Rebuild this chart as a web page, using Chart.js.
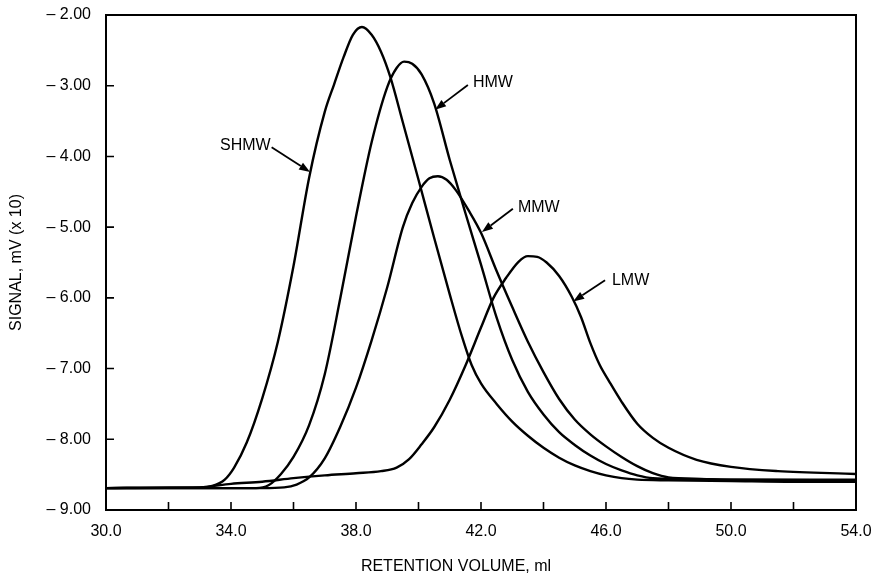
<!DOCTYPE html>
<html>
<head>
<meta charset="utf-8">
<script src="https://cdn.jsdelivr.net/npm/chart.js@4.4.1/dist/chart.umd.min.js"></script>
<style>
  html, body { margin: 0; padding: 0; background: #fff; }
  #wrap { width: 874px; height: 576px; }
</style>
</head>
<body>
<div id="wrap"><canvas id="gpc" width="874" height="576"></canvas></div>
<script>
// GPC traces: retention volume (ml) vs detector signal (mV x 10)
const shmwVol = [30.0, 32.0, 33.0, 33.4, 33.8, 34.1, 34.5, 35.0, 35.5, 36.0, 36.5, 37.0, 37.3, 37.6, 37.9, 38.19, 38.5, 38.8, 39.1, 39.5, 40.0, 40.5, 41.0, 41.4, 41.7, 42.0, 42.5, 43.0, 43.5, 44.0, 44.5, 45.0, 45.5, 46.0, 46.5, 47.0, 48.0, 50.0, 52.0, 54.0];
const shmwSig = [-8.69, -8.68, -8.68, -8.66, -8.57, -8.40, -8.05, -7.42, -6.62, -5.55, -4.30, -3.37, -2.98, -2.60, -2.28, -2.17, -2.28, -2.52, -2.88, -3.52, -4.33, -5.15, -5.95, -6.56, -6.95, -7.21, -7.50, -7.75, -7.95, -8.12, -8.26, -8.37, -8.45, -8.51, -8.55, -8.57, -8.58, -8.59, -8.60, -8.60];

const hmwVol = [30.0, 33.0, 34.8, 35.2, 35.6, 36.0, 36.5, 37.0, 37.5, 38.0, 38.5, 39.0, 39.3, 39.54, 39.8, 40.1, 40.5, 41.0, 41.5, 42.0, 42.5, 43.0, 43.5, 44.0, 44.5, 45.0, 45.5, 46.0, 46.5, 47.0, 47.5, 48.5, 50.0, 54.0];
const hmwSig = [-8.69, -8.69, -8.69, -8.65, -8.49, -8.25, -7.80, -7.08, -6.00, -4.85, -3.80, -3.02, -2.75, -2.66, -2.69, -2.84, -3.25, -4.05, -4.80, -5.53, -6.28, -6.88, -7.33, -7.65, -7.90, -8.08, -8.23, -8.35, -8.44, -8.51, -8.55, -8.56, -8.57, -8.58];

const mmwVol = [30.0, 35.0, 35.7, 36.1, 36.5, 37.0, 37.5, 38.0, 38.5, 39.0, 39.5, 39.8, 40.1, 40.35, 40.62, 40.9, 41.2, 41.6, 42.0, 42.5, 43.0, 43.5, 44.0, 44.5, 45.0, 45.5, 46.0, 46.5, 47.0, 47.5, 48.0, 49.0, 50.0, 54.0];
const mmwSig = [-8.69, -8.69, -8.68, -8.64, -8.54, -8.27, -7.82, -7.27, -6.60, -5.85, -5.00, -4.66, -4.43, -4.31, -4.28, -4.33, -4.48, -4.76, -5.08, -5.62, -6.13, -6.62, -7.05, -7.43, -7.72, -7.93, -8.10, -8.25, -8.38, -8.48, -8.54, -8.56, -8.57, -8.57];

const lmwVol = [30.0, 33.0, 34.0, 35.0, 36.0, 37.0, 38.0, 38.8, 39.3, 39.7, 40.1, 40.5, 41.0, 41.5, 42.0, 42.4, 42.8, 43.2, 43.5, 43.8, 44.1, 44.5, 44.9, 45.2, 45.5, 45.8, 46.1, 46.5, 47.0, 47.5, 48.0, 48.9, 50.0, 51.5, 54.0];
const lmwSig = [-8.69, -8.68, -8.63, -8.60, -8.55, -8.51, -8.48, -8.45, -8.40, -8.28, -8.07, -7.83, -7.44, -6.96, -6.42, -6.00, -5.72, -5.49, -5.41, -5.42, -5.50, -5.69, -5.98, -6.27, -6.64, -6.95, -7.18, -7.47, -7.78, -7.98, -8.12, -8.29, -8.39, -8.45, -8.49];

const seriesNames = ['SHMW', 'HMW', 'MMW', 'LMW'];

// tick labels
const xTickLabels = ['30.0', '', '34.0', '', '38.0', '', '42.0', '', '46.0', '', '50.0', '', '54.0'];
const yTickLabels = ['\u2013 9.00', '\u2013 8.00', '\u2013 7.00', '\u2013 6.00', '\u2013 5.00', '\u2013 4.00', '\u2013 3.00', '\u2013 2.00'];

// callouts: text anchor, arrow tail, arrow tip (data units)
const calloutText = ['SHMW', 'HMW', 'MMW', 'LMW'];
const calloutAt   = [[33.65, -3.84], [41.74, -2.96], [43.18, -4.73], [46.19, -5.75]];
const calloutTail = [[35.30, -3.87], [41.58, -2.99], [43.02, -4.74], [45.97, -5.75]];
const calloutTip  = [[36.53, -4.22], [40.53, -3.34], [42.03, -5.07], [44.95, -6.05]];

const FONT = '"Liberation Sans", Arial, Helvetica, sans-serif';

function pts(xs, ys) {
  return xs.map((x, i) => ({ x, y: ys[i] }));
}

const traces = [[shmwVol, shmwSig], [hmwVol, hmwSig], [mmwVol, mmwSig], [lmwVol, lmwSig]];

const datasets = traces.map((t, i) => ({
  label: seriesNames[i],
  data: pts(t[0], t[1]),
  borderColor: '#000',
  borderWidth: 2.4,
  pointRadius: 0,
  fill: false,
  cubicInterpolationMode: 'monotone',
}));

// box around the plot + inward tick marks
const framePlugin = {
  id: 'frame',
  afterDraw(chart) {
    const { ctx, chartArea: a, scales } = chart;
    ctx.save();
    ctx.strokeStyle = '#000';
    ctx.lineWidth = 2;
    ctx.strokeRect(a.left, a.top, a.right - a.left, a.bottom - a.top);

    ctx.lineWidth = 1.6;
    ctx.beginPath();
    for (let v = 30; v <= 54; v += 2) {
      const px = scales.x.getPixelForValue(v);
      ctx.moveTo(px, a.bottom);
      ctx.lineTo(px, a.bottom - 8);
    }
    for (let v = -9; v <= -2; v++) {
      const py = scales.y.getPixelForValue(v);
      ctx.moveTo(a.left, py);
      ctx.lineTo(a.left + 8, py);
    }
    ctx.stroke();
    ctx.restore();
  },
};

// peak names with arrows pointing at each trace
const calloutPlugin = {
  id: 'callouts',
  afterDatasetsDraw(chart) {
    const { ctx, scales: { x, y } } = chart;
    ctx.save();
    ctx.fillStyle = '#000';
    ctx.strokeStyle = '#000';
    ctx.font = '16px ' + FONT;
    ctx.textBaseline = 'middle';
    calloutText.forEach((txt, i) => {
      const tx = x.getPixelForValue(calloutAt[i][0]);
      const ty = y.getPixelForValue(calloutAt[i][1]);
      ctx.textAlign = 'left';
      ctx.fillText(txt, tx, ty);

      const x0 = x.getPixelForValue(calloutTail[i][0]);
      const y0 = y.getPixelForValue(calloutTail[i][1]);
      const x1 = x.getPixelForValue(calloutTip[i][0]);
      const y1 = y.getPixelForValue(calloutTip[i][1]);
      const ang = Math.atan2(y1 - y0, x1 - x0);
      const hl = 11, hw = 4;
      const bx = x1 - hl * Math.cos(ang), by = y1 - hl * Math.sin(ang);

      ctx.lineWidth = 1.8;
      ctx.beginPath();
      ctx.moveTo(x0, y0);
      ctx.lineTo(bx, by);
      ctx.stroke();

      ctx.beginPath();
      ctx.moveTo(x1, y1);
      ctx.lineTo(bx + hw * Math.sin(ang), by - hw * Math.cos(ang));
      ctx.lineTo(bx - hw * Math.sin(ang), by + hw * Math.cos(ang));
      ctx.closePath();
      ctx.fill();
    });
    ctx.restore();
  },
};

// x axis caption sits a little left of the plot centre
const xCaptionPlugin = {
  id: 'xCaption',
  afterDraw(chart) {
    const { ctx, scales: { x } } = chart;
    ctx.save();
    ctx.fillStyle = '#000';
    ctx.font = '16px ' + FONT;
    ctx.textAlign = 'center';
    ctx.textBaseline = 'middle';
    ctx.fillText('RETENTION VOLUME, ml', x.getPixelForValue(41.2), 567);
    ctx.restore();
  },
};

new Chart(document.getElementById('gpc').getContext('2d'), {
  type: 'line',
  data: { datasets },
  plugins: [framePlugin, calloutPlugin, xCaptionPlugin],
  options: {
    responsive: false,
    animation: false,
    layout: { padding: { top: 15, right: 18, left: 0, bottom: 0 } },
    plugins: {
      legend: { display: false },
      tooltip: { enabled: false },
    },
    scales: {
      x: {
        type: 'linear',
        min: 30,
        max: 54,
        afterFit(scale) {
          scale.height = 66;
          scale.paddingLeft = 0;
          scale.paddingRight = 0;
        },
        ticks: {
          stepSize: 2,
          autoSkip: false,
          maxRotation: 0,
          padding: 12,
          color: '#000',
          font: { family: FONT, size: 16 },
          callback: (v, i) => xTickLabels[i],
        },
        grid: { display: false, drawTicks: false },
        border: { display: false },
      },
      y: {
        min: -9,
        max: -2,
        afterFit(scale) {
          scale.width = 106;
          scale.paddingTop = 0;
          scale.paddingBottom = 0;
        },
        ticks: {
          stepSize: 1,
          padding: 15,
          color: '#000',
          font: { family: FONT, size: 16 },
          callback: (v, i) => yTickLabels[i],
        },
        title: {
          display: true,
          text: 'SIGNAL, mV (x 10)',
          color: '#000',
          font: { family: FONT, size: 16 },
          padding: { top: 7, bottom: 0 },
        },
        grid: { display: false, drawTicks: false },
        border: { display: false },
      },
    },
  },
});
</script>
</body>
</html>
